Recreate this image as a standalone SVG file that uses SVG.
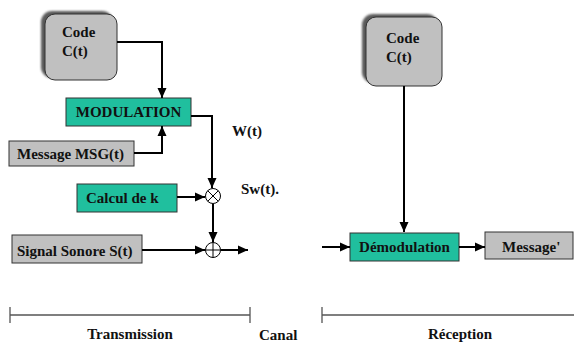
<svg xmlns="http://www.w3.org/2000/svg" width="574" height="347" viewBox="0 0 574 347">
<defs>
<marker id="ah" viewBox="0 0 10 10" refX="10" refY="5" markerWidth="10" markerHeight="10" markerUnits="userSpaceOnUse" orient="auto">
<path d="M0,0.5 L10,5 L0,9.5 z" fill="#000"/>
</marker>
<filter id="blur" x="-20%" y="-20%" width="140%" height="140%"><feGaussianBlur stdDeviation="0.9"/></filter>
</defs>
<style>
text{font-family:"Liberation Serif",Tinos,"Noto Serif",FreeSerif,"DejaVu Serif",serif;font-weight:700;font-size:15px;fill:#111}
.gray{fill:#c0c0c0;stroke:#333;stroke-width:1}
.teal{fill:#20bf9e;stroke:#333;stroke-width:1}
.shadow{fill:#5a5a5a;filter:url(#blur)}
.conn{fill:none;stroke:#000;stroke-width:2}
.arr{marker-end:url(#ah)}
.br{fill:none;stroke:#555;stroke-width:1.3}
</style>
<rect width="574" height="347" fill="#fff"/>

<g id="code1">
<rect class="shadow" x="41" y="11" width="72" height="67" rx="11"/>
<rect class="gray" x="45" y="14" width="72" height="66" rx="10"/>
<text x="62" y="37">Code</text>
<text x="62" y="56">C(t)</text>
</g>
<g id="modulation">
<rect class="teal" x="66" y="98" width="125" height="28"/>
<text x="128.5" y="117" text-anchor="middle">MODULATION</text>
</g>
<g id="message">
<rect class="gray" x="9" y="141" width="125" height="25"/>
<text x="17" y="159">Message MSG(t)</text>
</g>
<g id="calcul">
<rect class="teal" x="77" y="184" width="100" height="28"/>
<text x="86" y="203">Calcul de k</text>
</g>
<g id="signal">
<rect class="gray" x="12" y="235" width="130" height="28"/>
<text x="17" y="256">Signal Sonore S(t)</text>
</g>
<g id="mult">
<circle cx="213" cy="196" r="7.5" fill="#fff" stroke="#000" stroke-width="1"/>
<path d="M207.7,190.7 L218.3,201.3 M218.3,190.7 L207.7,201.3" stroke="#000" stroke-width="1"/>
</g>
<g id="add">
<circle cx="213" cy="250" r="7.5" fill="#fff" stroke="#000" stroke-width="1"/>
<path d="M205.5,250 L220.5,250 M213,242.5 L213,257.5" stroke="#000" stroke-width="1"/>
</g>
<g id="code2">
<rect class="shadow" x="362" y="14" width="76" height="69" rx="11"/>
<rect class="gray" x="366" y="17" width="76" height="69" rx="10"/>
<text x="386" y="43">Code</text>
<text x="386" y="62">C(t)</text>
</g>
<g id="demodulation">
<rect class="teal" x="350" y="233" width="109" height="28"/>
<text x="404.5" y="252" text-anchor="middle">Démodulation</text>
</g>
<g id="message2">
<rect class="gray" x="485" y="232" width="88" height="27"/>
<text x="502" y="252">Message'</text>
</g>

<g id="connectors">
<path class="conn arr" d="M117,42 H162 V98"/>
<path class="conn arr" d="M134,153 H162 V126"/>
<path class="conn arr" d="M191,116 H212 V188"/>
<path class="conn arr" d="M177,197 H205"/>
<path class="conn arr" d="M213,204 V242"/>
<path class="conn arr" d="M142,250 H205"/>
<path class="conn arr" d="M221,250 H248"/>
<path class="conn arr" d="M404,86 V232"/>
<path class="conn arr" d="M322,247 H350"/>
<path class="conn arr" d="M459,247 H485"/>
</g>

<g id="labels">
<text x="232" y="136">W(t)</text>
<text x="241" y="194">Sw(t).</text>
</g>

<g id="brackets">
<path class="br" d="M10,315 H250 M10,307 V323 M250,307 V323"/>
<path class="br" d="M322,315 H574 M322,307 V323"/>
<text x="130" y="339" text-anchor="middle">Transmission</text>
<text x="259" y="340">Canal</text>
<text x="460" y="339" text-anchor="middle">Réception</text>
</g>
</svg>
